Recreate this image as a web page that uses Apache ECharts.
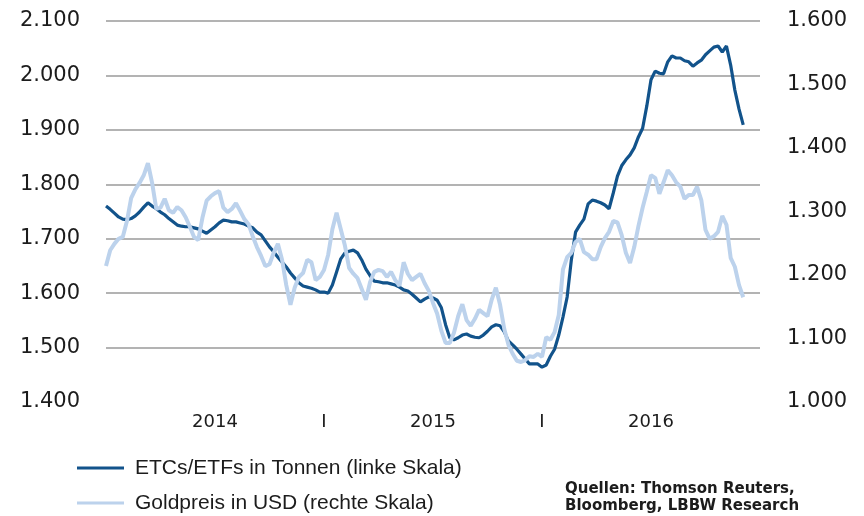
<!DOCTYPE html>
<html>
<head>
<meta charset="utf-8">
<script src="https://cdn.jsdelivr.net/npm/echarts@6/dist/echarts.min.js"></script>
<style>
html,body{margin:0;padding:0;background:#fff;}
#chart{width:864px;height:516px;}
</style>
</head>
<body>
<div id="chart"></div>
<script>
// Weekly observations, starting first week of January 2014
const startDate = '2014-01-03';
const weekCount = 157;

// ETCs/ETFs holdings in tonnes (left axis)
const etfTonnen = [
1760,1754,1747,1740,1736,1735,1737,1742,1749,1758,1766,1760,1755,1749,1744,1737,1731,1725,1723,1722,
1722,1720,1718,1714,1710,1716,1722,1729,1734,1733,1731,1731,1729,1727,1723,1720,1712,1707,1696,1685,
1676,1666,1657,1648,1637,1628,1619,1613,1611,1609,1606,1602,1602,1600,1615,1639,1663,1674,1677,1679,
1674,1661,1644,1632,1622,1621,1619,1619,1617,1615,1611,1606,1604,1598,1591,1584,1589,1593,1591,1587,
1573,1542,1518,1514,1518,1523,1525,1521,1519,1518,1523,1530,1538,1542,1540,1529,1512,1505,1497,1488,
1479,1470,1470,1470,1464,1468,1484,1497,1523,1556,1593,1661,1712,1725,1736,1764,1771,1769,1766,1762,
1755,1784,1815,1834,1845,1854,1867,1887,1903,1944,1992,2008,2004,2003,2025,2036,2032,2032,2027,2025,
2017,2023,2028,2038,2045,2052,2054,2043,2054,2019,1973,1938,1909
];

// Gold price in USD (right axis)
const goldUSD = [
1214,1239,1249,1257,1260,1285,1321,1335,1345,1357,1376,1345,1304,1306,1320,1302,1298,1307,1302,1291,
1276,1260,1255,1290,1317,1324,1329,1332,1306,1299,1304,1313,1301,1288,1280,1261,1244,1230,1214,1217,
1235,1249,1224,1184,1153,1180,1197,1203,1224,1220,1192,1197,1208,1232,1272,1298,1272,1246,1211,1202,
1195,1178,1161,1189,1205,1208,1206,1197,1205,1192,1183,1220,1202,1192,1197,1202,1187,1175,1156,1139,
1112,1093,1093,1109,1135,1154,1129,1120,1131,1145,1140,1135,1161,1180,1153,1115,1090,1076,1065,1063,
1066,1072,1071,1076,1071,1102,1098,1110,1137,1209,1228,1235,1252,1257,1236,1232,1225,1225,1244,1258,
1268,1285,1283,1263,1235,1219,1244,1277,1306,1331,1357,1353,1328,1346,1365,1357,1346,1339,1320,1326,
1326,1339,1318,1271,1257,1261,1268,1293,1279,1227,1213,1184,1165
];

// x-axis tick labels (week index -> text)
const tickIndex = [26, 52, 78, 104, 130];
const tickText = ['2014', 'I', '2015', 'I', '2016'];

const seriesNames = ['ETCs/ETFs in Tonnen (linke Skala)', 'Goldpreis in USD (rechte Skala)'];
const sourceLines = ['Quellen: Thomson Reuters,', 'Bloomberg, LBBW Research'];

// build weekly category labels
const categories = [];
{
  const d0 = new Date(startDate + 'T00:00:00Z');
  for (let i = 0; i < weekCount; i++) {
    const d = new Date(d0.getTime() + i * 7 * 86400000);
    categories.push(d.toISOString().slice(0, 10));
  }
}

const fmt = v => (v / 1000).toFixed(3);
const FONT = 'DejaVu Sans';
const txt = '#1c1c1c';
const darkBlue = '#12538b';
const lightBlue = '#bcd2ec';

const chart = echarts.init(document.getElementById('chart'), null, {renderer: 'canvas'});
chart.setOption({
  animation: false,
  backgroundColor: '#fff',
  grid: {left: 106, right: 104, top: 21, bottom: 114, containLabel: false},
  legend: {
    orient: 'vertical',
    left: 77,
    top: 457,
    padding: 0,
    icon: 'rect',
    itemWidth: 47,
    itemHeight: 3,
    itemGap: 13,
    textStyle: {fontFamily: 'Liberation Sans', fontSize: 21, color: txt, lineHeight: 22, padding: [0, 0, 0, 6]},
    data: [
      {name: seriesNames[0], itemStyle: {color: darkBlue}},
      {name: seriesNames[1], itemStyle: {color: lightBlue}}
    ]
  },
  xAxis: {
    type: 'category',
    boundaryGap: false,
    data: categories,
    axisLine: {show: false},
    axisTick: {show: false},
    splitLine: {show: false},
    axisLabel: {
      interval: (idx) => tickIndex.indexOf(idx) >= 0,
      formatter: (val, idx) => {
        const k = tickIndex.indexOf(idx);
        return k >= 0 ? tickText[k] : '';
      },
      fontFamily: FONT, fontSize: 18, color: txt, margin: 11
    }
  },
  yAxis: [
    {
      type: 'value', min: 1400, max: 2100, interval: 100, position: 'left',
      axisLine: {show: false}, axisTick: {show: false},
      splitLine: {show: true, showMinLine: false, lineStyle: {color: '#b3b3b3', width: 2}},
      axisLabel: {formatter: fmt, fontFamily: FONT, fontSize: 21, color: txt, margin: 26}
    },
    {
      type: 'value', min: 1000, max: 1600, interval: 100, position: 'right',
      axisLine: {show: false}, axisTick: {show: false}, splitLine: {show: false},
      axisLabel: {formatter: fmt, fontFamily: FONT, fontSize: 21, color: txt, margin: 27}
    }
  ],
  series: [
    {
      name: seriesNames[0], type: 'line', yAxisIndex: 0, data: etfTonnen,
      symbol: 'none', smooth: false,
      lineStyle: {color: darkBlue, width: 3.2},
      itemStyle: {color: darkBlue}, z: 2
    },
    {
      name: seriesNames[1], type: 'line', yAxisIndex: 1, data: goldUSD,
      symbol: 'none', smooth: false,
      lineStyle: {color: lightBlue, width: 4},
      itemStyle: {color: lightBlue}, z: 3
    }
  ],
  graphic: [
    {type: 'text', left: 565, top: 481, style: {text: sourceLines.join('\n'), fontFamily: FONT, fontSize: 15, fontWeight: 'bold', fill: txt, lineHeight: 17}}
  ]
});
</script>
</body>
</html>
